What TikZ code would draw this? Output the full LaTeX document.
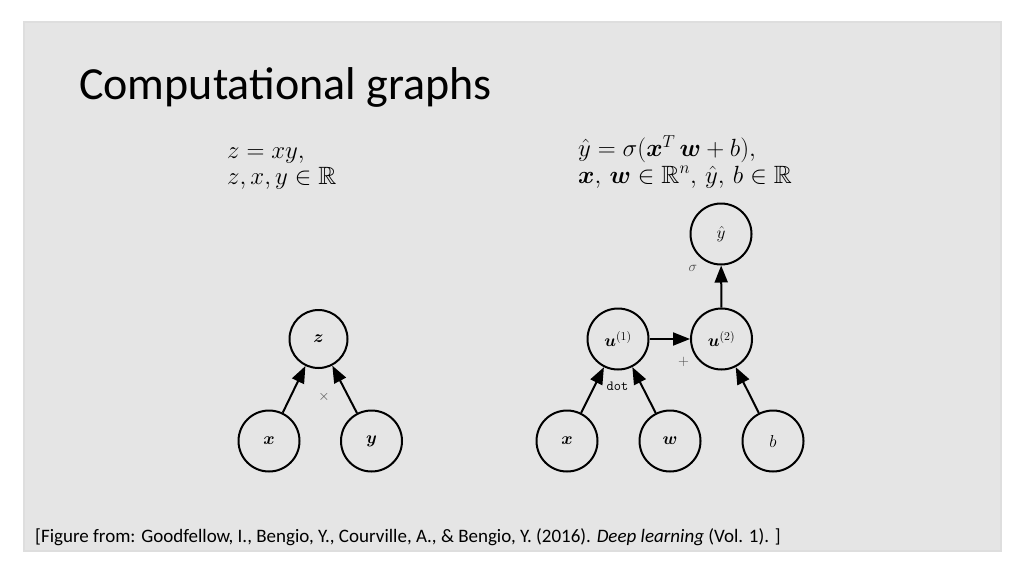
\documentclass[tikz,border=0pt]{standalone}
\usepackage{amsmath}
\usepackage{amssymb}
\usepackage{fontspec}
\setmainfont{Carlito}
\usetikzlibrary{arrows.meta}

\begin{document}
\begin{tikzpicture}[x=1pt,y=-1pt,var/.style={shape=circle,draw=black,line width=2pt,minimum size=61pt,inner sep=0pt,font=\fontsize{17}{17}\selectfont},varZ/.style={var,minimum size=58pt},op/.style={font=\fontsize{14}{14}\selectfont,text=black!70},arr/.style={line width=2pt,-{Triangle[length=17pt,width=13pt]}},eq/.style={anchor=base west,inner sep=0pt,align=left,font=\fontsize{25}{26.5}\selectfont}]
\def\ya{339};
\def\yb{441};
\def\yc{234};

\useasboundingbox (0,0) rectangle (1024,576);
\fill[white] (0,0) rectangle (1024,576);
\draw[draw=black!13,line width=1.5pt,fill=black!10] (24,22) rectangle (1001,551);

\node[anchor=base west,inner sep=0pt,font=\fontsize{46}{46}\selectfont] (title) at (79,99.5) {Computational graphs};

\node[eq] (eqL) at (227,184.5) {$z = xy,$\\$z, x, y \in \mathbb{R}$};
\node[eq] (eqR) at (578,183) {$\hat{y} = \sigma(\boldsymbol{x}^T\,\boldsymbol{w} + b),$\\$\boldsymbol{x},\, \boldsymbol{w} \in \mathbb{R}^n,\, \hat{y},\, b \in \mathbb{R}$};

% z = xy
\node[varZ] (z) at (318.5,\ya) {$\boldsymbol{z}$};
\node[var] (x) at (269,\yb) {$\boldsymbol{x}$};
\draw[arr] (x) -- (z);
\node[var] (y) at (371.5,\yb) {$\boldsymbol{y}$};
\draw[arr] (y) -- (z);
\node[op] (times) at (324,397) {$\times$};

% yhat = sigma(x^T w + b)
\node[var] (yhat) at (721,\yc) {$\hat{y}$};
\node[var] (u1) at (618,\ya) {$\boldsymbol{u}^{(1)}$};
\node[var] (u2) at (721.5,\ya) {$\boldsymbol{u}^{(2)}$};
\draw[arr] (u1) -- (u2);
\draw[arr] (u2) -- (yhat);
\node[var] (x2) at (567,\yb) {$\boldsymbol{x}$};
\draw[arr] (x2) -- (u1);
\node[var] (w) at (670,\yb) {$\boldsymbol{w}$};
\draw[arr] (w) -- (u1);
\node[var] (b) at (773,\yb) {$b$};
\draw[arr] (b) -- (u2);
\node[op] (sigma) at (693,268) {$\sigma$};
\node[op] (plus) at (683.5,361.5) {$+$};
\node[op,text=black] (dot) at (617.5,386.5) {\texttt{dot}};

\node[anchor=base west,inner sep=0pt,font=\fontsize{19}{21}\selectfont] (cite) at (35,542) {[Figure from: Goodfellow, I., Bengio, Y., Courville, A., \& Bengio, Y. (2016). \textit{Deep learning} (Vol. 1). ]};
\end{tikzpicture}
\end{document}
